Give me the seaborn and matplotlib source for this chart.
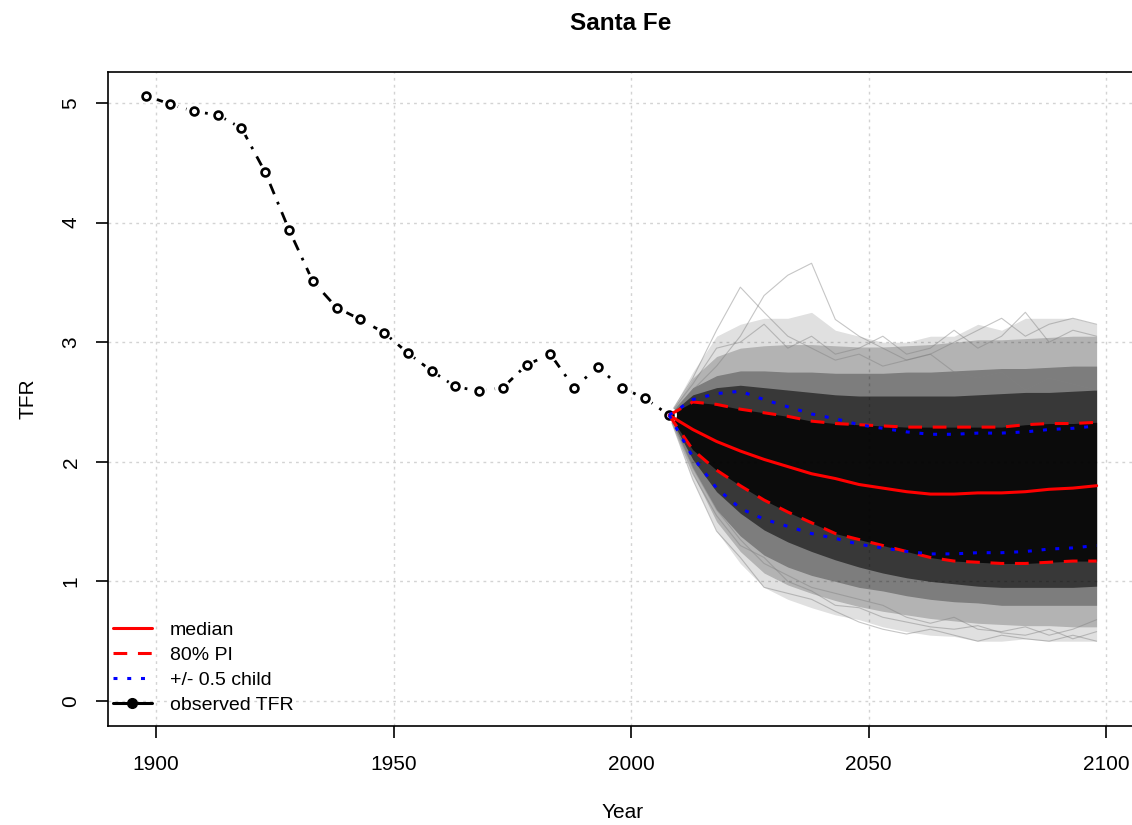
import matplotlib

matplotlib.use("Agg")
import matplotlib.pyplot as plt
import seaborn as sns
from matplotlib.lines import Line2D

# observed TFR, five-year periods
obs_years = list(range(1898, 2009, 5))
obs_tfr = [5.06, 4.99, 4.93, 4.90, 4.79, 4.42, 3.94, 3.51, 3.29, 3.19, 3.08, 2.91,
           2.76, 2.63, 2.59, 2.62, 2.81, 2.90, 2.62, 2.79, 2.62, 2.53, 2.39]

# projection
proj_years = list(range(2008, 2099, 5))
median = [2.39, 2.27, 2.17, 2.09, 2.02, 1.96, 1.90, 1.86, 1.81, 1.78, 1.75, 1.73,
          1.73, 1.74, 1.74, 1.75, 1.77, 1.78, 1.80]
pi_upper = [2.39, 2.50, 2.48, 2.44, 2.41, 2.38, 2.34, 2.32, 2.31, 2.30, 2.29, 2.29,
            2.29, 2.29, 2.29, 2.31, 2.32, 2.32, 2.33]
pi_lower = [2.39, 2.10, 1.93, 1.80, 1.68, 1.58, 1.49, 1.40, 1.35, 1.30, 1.25, 1.20,
            1.17, 1.16, 1.15, 1.15, 1.16, 1.17, 1.17]
half_upper = [2.39, 2.52, 2.57, 2.59, 2.52, 2.46, 2.40, 2.36, 2.31, 2.28, 2.25, 2.23,
              2.23, 2.24, 2.24, 2.25, 2.27, 2.28, 2.30]
half_lower = [2.39, 2.04, 1.78, 1.61, 1.52, 1.46, 1.40, 1.36, 1.31, 1.28, 1.25, 1.23,
              1.23, 1.24, 1.24, 1.25, 1.27, 1.28, 1.30]

# trajectory cloud, read as envelopes
env_upper = [2.39, 2.75, 3.05, 3.15, 3.20, 3.20, 3.25, 3.10, 3.05, 3.00, 3.00, 3.05,
             3.05, 3.15, 3.10, 3.20, 3.20, 3.20, 3.15]
env_lower = [2.39, 1.85, 1.42, 1.15, 0.95, 0.85, 0.78, 0.72, 0.68, 0.62, 0.58, 0.55,
             0.54, 0.50, 0.50, 0.52, 0.50, 0.50, 0.50]
q99_upper = [2.39, 2.70, 2.88, 2.95, 2.97, 2.98, 2.98, 2.97, 2.96, 2.96, 2.97, 2.98,
             3.00, 3.02, 3.02, 3.03, 3.04, 3.05, 3.05]
q99_lower = [2.39, 1.90, 1.50, 1.25, 1.07, 0.97, 0.90, 0.84, 0.79, 0.75, 0.72, 0.69,
             0.67, 0.65, 0.64, 0.63, 0.63, 0.62, 0.62]
q95_upper = [2.39, 2.62, 2.72, 2.76, 2.76, 2.75, 2.75, 2.74, 2.74, 2.74, 2.75, 2.75,
             2.76, 2.77, 2.78, 2.78, 2.79, 2.80, 2.80]
q95_lower = [2.39, 1.95, 1.60, 1.38, 1.22, 1.12, 1.05, 1.00, 0.95, 0.92, 0.88, 0.85,
             0.83, 0.82, 0.80, 0.80, 0.80, 0.80, 0.80]
q90_upper = [2.39, 2.56, 2.62, 2.64, 2.62, 2.60, 2.58, 2.56, 2.55, 2.55, 2.55, 2.55,
             2.55, 2.56, 2.57, 2.58, 2.58, 2.59, 2.60]
q90_lower = [2.39, 2.02, 1.75, 1.57, 1.43, 1.33, 1.25, 1.18, 1.12, 1.07, 1.03, 1.00,
             0.98, 0.96, 0.95, 0.95, 0.95, 0.95, 0.96]

# a few stray trajectories visible at the edges
stray_trajs = [
    [2.39, 2.60, 2.80, 3.05, 3.39, 3.56, 3.66, 3.19, 3.05, 2.95, 2.85, 2.90, 2.75,
     2.70, 2.75, 2.60, 2.70, 2.65, 2.60],
    [2.39, 2.70, 3.10, 3.46, 3.25, 3.05, 2.95, 2.85, 2.90, 2.80, 2.85, 2.90, 3.00,
     3.10, 3.20, 3.05, 3.15, 3.20, 3.15],
    [2.39, 2.65, 2.95, 3.00, 3.15, 2.95, 3.05, 2.90, 2.95, 3.05, 2.90, 2.95, 3.10,
     2.95, 3.05, 3.25, 3.00, 3.10, 3.05],
    [2.39, 1.85, 1.42, 1.20, 0.95, 0.90, 0.85, 0.75, 0.66, 0.60, 0.56, 0.60, 0.55,
     0.50, 0.55, 0.52, 0.50, 0.55, 0.50],
    [2.39, 1.95, 1.60, 1.35, 1.15, 1.05, 0.95, 0.90, 0.85, 0.80, 0.70, 0.65, 0.70,
     0.60, 0.58, 0.62, 0.55, 0.60, 0.68],
    [2.39, 1.90, 1.55, 1.30, 1.20, 1.00, 0.92, 0.80, 0.78, 0.70, 0.66, 0.62, 0.60,
     0.63, 0.57, 0.55, 0.60, 0.52, 0.58],
]

x_ticks = [1900, 1950, 2000, 2050, 2100]
y_ticks = [0, 1, 2, 3, 4, 5]

sns.set_style("white")
plt.rcParams["font.family"] = ["Liberation Sans", "DejaVu Sans"]
plt.rcParams["text.color"] = "black"
plt.rcParams["axes.labelcolor"] = "black"
plt.rcParams["xtick.color"] = "black"
plt.rcParams["ytick.color"] = "black"

W, H = 1132, 825
fig = plt.figure(figsize=(W / 100, H / 100), dpi=100)
ax = fig.add_axes([108 / W, (H - 726) / H, (1137 - 108) / W, (726 - 72) / H])
ax.set_xlim(1889.9, 2106.5)
ax.set_ylim(-0.209, 5.259)

grid_kw = dict(color="#d3d3d3", lw=1, ls=(0, (2, 3)), zorder=0)
for xv in x_ticks:
    ax.axvline(xv, **grid_kw)
for yv in y_ticks:
    ax.axhline(yv, **grid_kw)

# trajectory cloud
bands = [
    (env_lower, env_upper, 0.12),
    (q99_lower, q99_upper, 0.20),
    (q95_lower, q95_upper, 0.30),
    (q90_lower, q90_upper, 0.55),
    (pi_lower, pi_upper, 0.80),
]
for lo, hi, a in bands:
    ax.fill_between(proj_years, lo, hi, color="black", alpha=a, lw=0, zorder=1)
for traj in stray_trajs:
    sns.lineplot(x=proj_years, y=traj, ax=ax, color="#808080", alpha=0.45,
                 linewidth=0.8, zorder=1)

# observed
sns.lineplot(x=obs_years, y=obs_tfr, ax=ax, color="black", linewidth=2.0,
             linestyle=(0, (1, 3, 4, 3)), zorder=2)
sns.scatterplot(x=obs_years, y=obs_tfr, ax=ax, s=130, color="white",
                edgecolor="none", zorder=3)
sns.scatterplot(x=obs_years, y=obs_tfr, ax=ax, s=32, facecolor="white",
                edgecolor="black", linewidth=1.9, zorder=4)

# median, PI, half child
sns.lineplot(x=proj_years, y=median, ax=ax, color="red", linewidth=2.2, zorder=5)
for series in (pi_upper, pi_lower):
    sns.lineplot(x=proj_years, y=series, ax=ax, color="red", linewidth=2.2,
                 linestyle=(0, (4.5, 3.5)), zorder=5)
for series in (half_upper, half_lower):
    sns.lineplot(x=proj_years, y=series, ax=ax, color="blue", linewidth=2.2,
                 linestyle=(0, (1.3, 3.2)), zorder=6)

ax.set_xticks(x_ticks)
ax.set_yticks(y_ticks)
ax.set_xticklabels([str(v) for v in x_ticks])
ax.set_yticklabels([str(v) for v in y_ticks])
ax.tick_params(axis="both", direction="out", length=8.6, width=1.2, color="black",
               labelsize=15, pad=12, bottom=True, left=True)
for lab in ax.get_yticklabels():
    lab.set_rotation(90)
    lab.set_va("center")
    lab.set_ha("center")
ax.tick_params(axis="y", pad=18)

for sp in ax.spines.values():
    sp.set_color("black")
    sp.set_linewidth(1.2)
ax.spines["right"].set_visible(False)

ax.set_xlabel("Year", fontsize=15)
ax.set_ylabel("TFR", fontsize=15)
ax.xaxis.set_label_coords(0.5, (726 - 813) / 654)
ax.xaxis.label.set_va("center")
ax.yaxis.set_label_coords((28 - 108) / 1029, 0.5)
ax.yaxis.label.set_va("center")

fig.text(621 / W, 1 - 24 / H, "Santa Fe", ha="center", va="center",
         fontsize=17.5, fontweight="bold")

handles = [
    Line2D([], [], color="red", lw=2.2),
    Line2D([], [], color="red", lw=2.2, ls=(0, (4.5, 3.5))),
    Line2D([], [], color="blue", lw=2.2, ls=(0, (1.3, 3.2))),
    Line2D([], [], color="black", lw=2.2, marker="o", markersize=7),
]
labels = ["median", "80% PI", "+/- 0.5 child", "observed TFR"]
ax.legend(handles, labels, loc="lower left", bbox_to_anchor=(-4 / 1029, 3 / 654),
          frameon=False, fontsize=14, handlelength=2.0, handletextpad=0.95,
          labelspacing=0.38, borderaxespad=0.15, borderpad=0.3)

fig.savefig("out.png", dpi=100)
